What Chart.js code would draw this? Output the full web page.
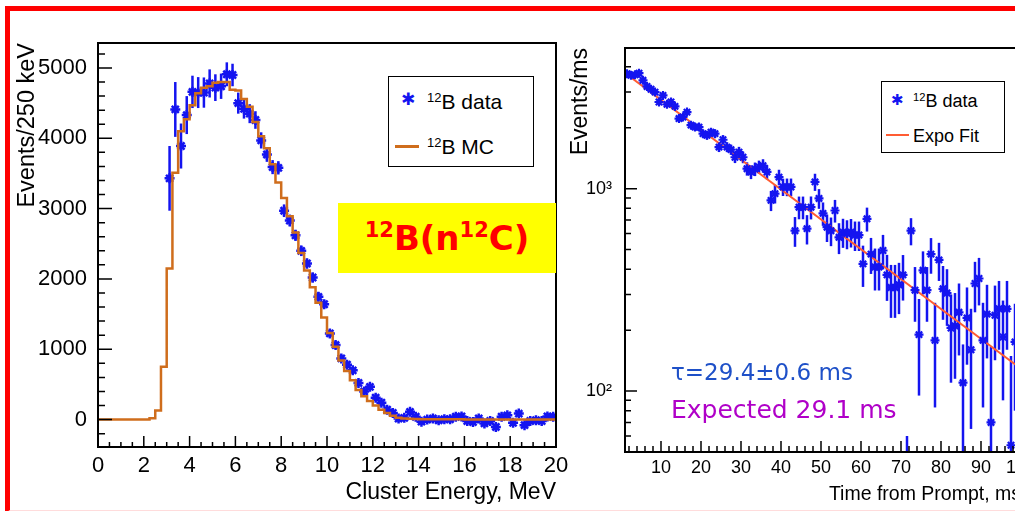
<!DOCTYPE html>
<html>
<head>
<meta charset="utf-8">
<script src="https://cdn.jsdelivr.net/npm/chart.js@4/dist/chart.umd.min.js"></script>
<style>
  html, body { margin: 0; padding: 0; background: #fff; }
  body { width: 1015px; height: 511px; overflow: hidden; position: relative; font-family: 'Liberation Sans', Arial, sans-serif; }
  #frame { position: absolute; left: 5px; top: 6px; width: 1100px; height: 499px; border-left: 5px solid #ff0000; border-top: 5px solid #ff0000; border-bottom: 3px solid #ffdcdc; }
  #energyChart { position: absolute; left: 0; top: 0; }
  #decayChart { position: absolute; left: 560px; top: 0; }
  .legend { position: absolute; box-sizing: border-box; border: 1.5px solid #000; background: #fff; }
  .row { position: absolute; white-space: nowrap; line-height: 1; color: #000; }
  .row sup { font-size: 0.62em; vertical-align: 0.55em; }
  .mark { position: absolute; color: #1414f0; font-family: 'DejaVu Sans', sans-serif; line-height: 1; }
  .swatch { position: absolute; height: 3px; }
  .note { position: absolute; white-space: nowrap; font-family: 'DejaVu Sans', sans-serif; line-height: 1; }
  #tag { position: absolute; left: 338px; top: 203px; width: 218px; height: 70px; background: #ffff00;
         display: flex; align-items: center; justify-content: center; color: #ff0000;
         font-family: 'DejaVu Sans', sans-serif; font-weight: bold; font-size: 34px; }
  #tag sup { font-size: 21px; vertical-align: 13px; }
</style>
</head>
<body>
<div id="frame"></div>
<canvas id="energyChart" width="570" height="511"></canvas>
<canvas id="decayChart" width="480" height="511"></canvas>

<div class="legend" style="left:388px;top:76px;width:146px;height:91px;">
  <span class="mark" style="left:12px;top:14px;font-size:17px;">✱</span>
  <span class="row" style="left:38px;top:14px;font-size:21px;"><sup>12</sup>B data</span>
  <span class="swatch" style="left:6px;top:68px;width:24px;background:#cf6d1c;"></span>
  <span class="row" style="left:38px;top:59px;font-size:21px;"><sup>12</sup>B MC</span>
</div>

<div class="legend" style="left:881px;top:81px;width:124px;height:72px;">
  <span class="mark" style="left:9px;top:11px;font-size:15px;">✱</span>
  <span class="row" style="left:31px;top:10px;font-size:18px;"><sup>12</sup>B data</span>
  <span class="swatch" style="left:4px;top:52px;width:23px;height:2px;background:#ff5c33;"></span>
  <span class="row" style="left:31px;top:45px;font-size:18px;">Expo Fit</span>
</div>

<div id="tag"><span><sup>12</sup>B(n<sup>12</sup>C)</span></div>

<div class="note" style="left:671px;top:361px;font-size:23px;color:#1e50c8;">τ=29.4±0.6 ms</div>
<div class="note" style="left:671px;top:397px;font-size:25px;color:#b000c8;">Expected 29.1 ms</div>

<script>
// --- left panel: cluster energy, 250 keV bins ---
const binWidth = 0.25;
const mcCounts = [0, 0, 0, 0, 0, 0, 0, 0, 0, 20, 130, 750, 2150, 3510, 4100, 4270, 4470, 4640, 4720, 4740,
  4790, 4800, 4800, 4690, 4680, 4560, 4450, 4230, 4030, 3860, 3630, 3370, 3150, 2890, 2660, 2370, 2120, 1880, 1660, 1450,
  1230, 1035, 840, 690, 560, 420, 330, 265, 200, 140, 95, 55, 25, 15, 10, 8, 6, 5, 5, 4,
  4, 3, 3, 3, 2, 2, 2, 2, 2, 1, 1, 1, 1, 1, 1, 1, 1, 1, 1, 1];
const firstDataCenter = 3.125;
const dataCounts = [3430, 4410, 3890, 4330, 4660, 4650, 4650, 4780, 4720, 4740,
  4910, 4900, 4500, 4420, 4350, 4260, 3970, 3770, 3590, 3580,
  2970, 2830, 2620, 2400, 2220, 2020, 1745, 1640, 1225, 1060,
  870, 780, 700, 520, 400, 465, 310, 240, 140, 95,
  15, 25, 110, 40, -30, 0, 15, -10, 5, 5,
  40, 45, -20, -35, 15, -55, -20, -105, 40, 60,
  -45, 85, -80, -20, -10, -20, 45, 40];
const dataErrors = [460, 390, 320, 270, 230, 220, 215, 200, 190, 180,
  170, 160, 150, 140, 135, 125, 115, 105, 100, 95,
  90, 85, 80, 75, 72, 70, 66, 62, 58, 55,
  52, 50, 48, 46, 45, 44, 43, 42, 42, 41,
  40, 40, 40, 40, 40, 40, 40, 40, 40, 40,
  40, 40, 40, 40, 40, 40, 40, 40, 40, 40,
  40, 40, 40, 40, 40, 40, 40, 40];
const energyTicks = [0, 2, 4, 6, 8, 10, 12, 14, 16, 18, 20];
const countTicks = [0, 1000, 2000, 3000, 4000, 5000];

// --- right panel: time from prompt, 1 ms bins ---
const firstTimeCenter = 1.5;
const decayCounts = [3700, 3630, 3650, 3720, 3430, 3200, 3100, 3000, 2680, 2890,
  2610, 2680, 2550, 2220, 2260, 2390, 2060, 2015, 2015, 1870,
  1835, 1900, 1870, 1605, 1745, 1605, 1560, 1430, 1515, 1430,
  1255, 1210, 1250, 1280, 1300, 1210, 875, 945, 1140, 1020,
  1020, 1020, 620, 810, 810, 635, 810, 1080, 895, 755,
  645, 620, 780, 575, 610, 600, 610, 590, 590, 425,
  710, 475, 410, 410, 495, 375, 325, 325, 335, 375,
  35, 620, 315, 190, 395, 315, 475, 178, 445, 320,
  305, 205, 210, 245, 110, 230, 160, 340, 360, 178,
  240, 70, 237, 255, 185, 255, 54, 175];
const decayErrors = [70, 70, 72, 72, 72, 74, 74, 75, 75, 76,
  78, 78, 80, 80, 80, 82, 82, 84, 84, 85,
  86, 86, 88, 88, 90, 90, 92, 92, 94, 94,
  95, 95, 96, 96, 98, 98, 100, 100, 100, 100,
  102, 102, 104, 104, 104, 105, 105, 105, 100, 100,
  100, 100, 100, 100, 100, 98, 98, 98, 98, 98,
  96, 96, 96, 96, 96, 96, 95, 95, 95, 95,
  25, 95, 95, 95, 95, 95, 95, 95, 95, 95,
  95, 95, 95, 95, 60, 95, 95, 95, 95, 95,
  95, 95, 95, 95, 95, 95, 95, 95];
const fitTimes = [1, 100];
const fitValues = [3726, 129];
const timeTicks = [10, 20, 30, 40, 50, 60, 70, 80, 90, 100];
const decayTicks = [100, 1000];

const BLUE = '#1414f0';
Chart.defaults.font.family = "'Liberation Sans', Arial, sans-serif";
Chart.defaults.color = '#000';

// vertical error bars, drawn under the markers
const errorBars = {
  id: 'errorBars',
  beforeDatasetsDraw(chart) {
    const { ctx, chartArea: a, scales: { x, y } } = chart;
    ctx.save();
    ctx.beginPath();
    ctx.rect(a.left, a.top, a.right - a.left, a.bottom - a.top);
    ctx.clip();
    chart.data.datasets.forEach(ds => {
      if (!ds.errors) return;
      ctx.strokeStyle = ds.borderColor;
      ctx.lineWidth = ds.errorWidth || 2.5;
      ds.data.forEach((p, i) => {
        const e = ds.errors[i];
        let lo = p.y - e;
        if (y.type === 'logarithmic') lo = Math.max(lo, y.min / 2);
        const px = x.getPixelForValue(p.x);
        ctx.beginPath();
        ctx.moveTo(px, y.getPixelForValue(lo));
        ctx.lineTo(px, y.getPixelForValue(p.y + e));
        ctx.stroke();
      });
    });
    ctx.restore();
  }
};

// ROOT-like frame with inward tick marks
const rootFrame = {
  id: 'rootFrame',
  afterDraw(chart, args, o) {
    const { ctx, chartArea: a, scales: { x, y } } = chart;
    ctx.save();
    ctx.strokeStyle = '#000';
    ctx.lineWidth = 1.5;
    ctx.beginPath();
    o.xMinor.forEach(v => { const p = x.getPixelForValue(v); ctx.moveTo(p, a.bottom); ctx.lineTo(p, a.bottom - o.xMinorLen); });
    o.xMajor.forEach(v => { const p = x.getPixelForValue(v); ctx.moveTo(p, a.bottom); ctx.lineTo(p, a.bottom - o.xMajorLen); });
    o.yMinor.forEach(v => { const p = y.getPixelForValue(v); ctx.moveTo(a.left, p); ctx.lineTo(a.left + o.yMinorLen, p); });
    o.yMajor.forEach(v => { const p = y.getPixelForValue(v); ctx.moveTo(a.left, p); ctx.lineTo(a.left + o.yMajorLen, p); });
    ctx.stroke();
    ctx.lineWidth = 2;
    ctx.strokeRect(a.left, a.top, a.right - a.left, a.bottom - a.top);
    ctx.restore();
  }
};

function range(from, to, step) {
  const out = [];
  for (let v = from; v <= to + 1e-9; v += step) out.push(Math.round(v * 1000) / 1000);
  return out;
}

// ---------- left chart ----------
const mcPoints = mcCounts.map((v, i) => ({ x: i * binWidth, y: v }));
mcPoints.push({ x: mcCounts.length * binWidth, y: mcCounts[mcCounts.length - 1] });
const dataPoints = dataCounts.map((v, i) => ({ x: firstDataCenter + i * binWidth, y: v }));

new Chart(document.getElementById('energyChart'), {
  type: 'scatter',
  data: {
    datasets: [
      {
        type: 'line', label: '12B MC', data: mcPoints, stepped: 'before',
        borderColor: '#cf6d1c', borderWidth: 2.5, pointRadius: 0, fill: false
      },
      {
        label: '12B data', data: dataPoints, errors: dataErrors,
        borderColor: BLUE, backgroundColor: BLUE, pointStyle: 'star',
        pointRadius: 5, pointBorderWidth: 2.5
      }
    ]
  },
  options: {
    responsive: false,
    animation: false,
    layout: { padding: { left: 0, top: 43, right: 14, bottom: 0 } },
    plugins: {
      legend: { display: false },
      tooltip: { enabled: false },
      rootFrame: {
        xMajor: energyTicks, xMinor: range(0, 20, 0.5), xMajorLen: 11, xMinorLen: 5,
        yMajor: countTicks, yMinor: range(-200, 5200, 200), yMajorLen: 14, yMinorLen: 7
      }
    },
    scales: {
      x: {
        type: 'linear', min: 0, max: 20,
        afterBuildTicks: s => { s.ticks = energyTicks.map(v => ({ value: v })); },
        afterFit: s => { s.height = 64; },
        grid: { display: false }, border: { display: false },
        ticks: { autoSkip: false, maxRotation: 0, padding: -2, font: { size: 22 }, callback: v => String(v) },
        title: { display: true, text: 'Cluster Energy, MeV', align: 'end', font: { size: 23 }, padding: { top: 0, bottom: 5 } }
      },
      y: {
        type: 'linear', min: -390, max: 5355,
        afterBuildTicks: s => { s.ticks = countTicks.map(v => ({ value: v })); },
        afterFit: s => { s.width = 98; },
        grid: { display: false }, border: { display: false },
        ticks: { autoSkip: false, padding: 3, font: { size: 22 }, callback: v => String(v) },
        title: { display: true, text: 'Events/250 keV', align: 'end', font: { size: 23.5 }, padding: { top: 13, bottom: 0 } }
      }
    }
  },
  plugins: [errorBars, rootFrame]
});

// ---------- right chart ----------
const decayPoints = decayCounts.map((v, i) => ({ x: firstTimeCenter + i, y: v }));
const fitPoints = fitTimes.map((t, i) => ({ x: t, y: fitValues[i] }));

new Chart(document.getElementById('decayChart'), {
  type: 'scatter',
  data: {
    datasets: [
      {
        label: '12B data', data: decayPoints, errors: decayErrors,
        borderColor: BLUE, backgroundColor: BLUE, pointStyle: 'star',
        pointRadius: 4.5, pointBorderWidth: 2.2
      },
      {
        type: 'line', label: 'Expo Fit', data: fitPoints,
        borderColor: '#ff5c33', borderWidth: 2, pointRadius: 0, fill: false
      }
    ]
  },
  options: {
    responsive: false,
    animation: false,
    layout: { padding: { left: 0, top: 48, right: 19, bottom: 0 } },
    plugins: {
      legend: { display: false },
      tooltip: { enabled: false },
      rootFrame: {
        xMajor: timeTicks, xMinor: range(2, 100, 2), xMajorLen: 11, xMinorLen: 6,
        yMajor: decayTicks, yMinor: [50, 60, 70, 80, 90, 200, 300, 400, 500, 600, 700, 800, 900, 2000, 3000, 4000],
        yMajorLen: 12, yMinorLen: 6
      }
    },
    scales: {
      x: {
        type: 'linear', min: 1, max: 100,
        afterBuildTicks: s => { s.ticks = timeTicks.map(v => ({ value: v })); },
        afterFit: s => { s.height = 59; },
        grid: { display: false }, border: { display: false },
        ticks: { autoSkip: false, maxRotation: 0, padding: -3, font: { size: 18 }, callback: v => String(v) },
        title: { display: true, text: 'Time from Prompt, ms', align: 'end', font: { size: 19.5 }, padding: { top: 0, bottom: 5 } }
      },
      y: {
        type: 'logarithmic', min: 50, max: 4955,
        afterBuildTicks: s => { s.ticks = decayTicks.map(v => ({ value: v })); },
        afterFit: s => { s.width = 65; },
        grid: { display: false }, border: { display: false },
        ticks: { autoSkip: false, padding: 5, font: { size: 18 }, callback: v => (v === 100 ? '10²' : '10³') },
        title: { display: true, text: 'Events/ms', align: 'end', font: { size: 23 }, padding: { top: 7, bottom: 0 } }
      }
    }
  },
  plugins: [errorBars, rootFrame]
});
</script>
</body>
</html>
